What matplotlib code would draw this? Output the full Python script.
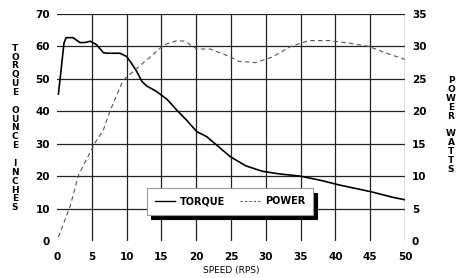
import matplotlib
matplotlib.use("Agg")
import matplotlib.pyplot as plt
from matplotlib.lines import Line2D

# torque curve (ounce-inches) vs speed (rps)
torque_x = [0.2, 0.6, 1.0, 1.3, 2.3, 3.3, 4.0, 4.8, 5.7, 6.65, 7.1, 9.05, 10.0,
            10.7, 11.45, 12.2, 12.9, 14.3, 15.8, 17.2, 18.6, 20.1, 21.5, 24.9,
            27.1, 29.5, 31.9, 35.0, 38.1, 40.5, 45.1, 48.2, 50.0]
torque_y = [45.3, 53.0, 61.0, 62.7, 62.7, 61.2, 61.2, 61.6, 60.5, 58.1, 57.9,
            57.9, 56.9, 54.8, 52.3, 49.2, 47.8, 46.1, 43.7, 40.4, 37.3, 33.7,
            32.2, 26.0, 23.2, 21.5, 20.7, 20.0, 18.6, 17.3, 15.2, 13.5, 12.7]

# power curve (watts) vs speed (rps)
power_x = [0.2, 1.9, 3.1, 5.5, 6.65, 7.6, 9.5, 11.45, 13.4, 15.3, 17.2, 18.4,
           20.1, 22.0, 24.9, 26.1, 28.5, 30.9, 33.6, 36.2, 39.1, 42.0, 44.8,
           47.2, 50.0]
power_y = [0.6, 5.4, 10.2, 15.2, 17.1, 20.0, 24.8, 26.6, 28.4, 30.2, 30.9, 30.8,
           29.6, 29.6, 28.4, 27.7, 27.5, 28.35, 30.0, 30.9, 30.9, 30.5, 30.0,
           29.0, 28.0]

x_ticks = list(range(0, 51, 5))
torque_ticks = list(range(0, 71, 10))
power_ticks = list(range(0, 36, 5))

plt.rcParams['font.family'] = ['DejaVu Sans']
plt.rcParams['font.weight'] = 'bold'

fig = plt.figure(figsize=(4.59, 2.78), dpi=100)
ax = fig.add_axes([57 / 459, 37 / 278, 348 / 459, 227 / 278])
ax2 = ax.twinx()

# grid lines drawn by hand so the top/right edges match
for v in x_ticks[1:]:
    ax.axvline(v, color='#222222', lw=0.9, zorder=1)
for h in torque_ticks[1:]:
    ax.axhline(h, color='#222222', lw=0.9, zorder=1)

ax.plot(torque_x, torque_y, color='black', lw=1.2, zorder=3)
ax2.plot(power_x, power_y, color='#555555', lw=0.8, ls=(0, (4, 3)), zorder=3)

ax.set_xlim(0, 50)
ax.set_ylim(0, 70)
ax2.set_ylim(0, 35)
ax.set_xticks(x_ticks)
ax.set_yticks(torque_ticks)
ax2.set_yticks(power_ticks)

for a in (ax, ax2):
    for s in a.spines.values():
        s.set_visible(False)
ax.tick_params(axis='both', length=0, labelsize=7.5)
ax.tick_params(axis='x', pad=8)
ax.tick_params(axis='y', pad=5)
ax2.tick_params(axis='y', length=0, labelsize=7.5, pad=5)

ax.set_xlabel('SPEED (RPS)', fontsize=6.5, labelpad=3)

left_label = '\n'.join(list('TORQUE') + [''] + list('OUNCE') + [''] + list('INCHES'))
fig.text(15 / 459, 1 - 128 / 278, left_label, fontsize=6.5, ha='center',
         va='center', linespacing=0.98)
right_label = '\n'.join(list('POWER') + [''] + list('WATTS'))
fig.text(451 / 459, 1 - 125 / 278, right_label, fontsize=6.5, ha='center',
         va='center', linespacing=0.98)

handles = [Line2D([], [], color='black', lw=1.0),
           Line2D([], [], color='#555555', lw=0.8, ls=(0, (2, 2)))]
leg = ax2.legend(handles, ['TORQUE', 'POWER'], ncol=2, loc='upper left',
                 bbox_to_anchor=(90 / 348, 53 / 227), borderaxespad=0,
                 fontsize=7, fancybox=False, framealpha=1, edgecolor='#999999',
                 handlelength=2.0, handletextpad=0.5, columnspacing=1.6,
                 borderpad=0.85,
                 shadow={'ox': 3, 'oy': -3.5, 'color': 'black', 'alpha': 1})
leg.get_frame().set_linewidth(0.8)

fig.savefig('out.png', dpi=100)
